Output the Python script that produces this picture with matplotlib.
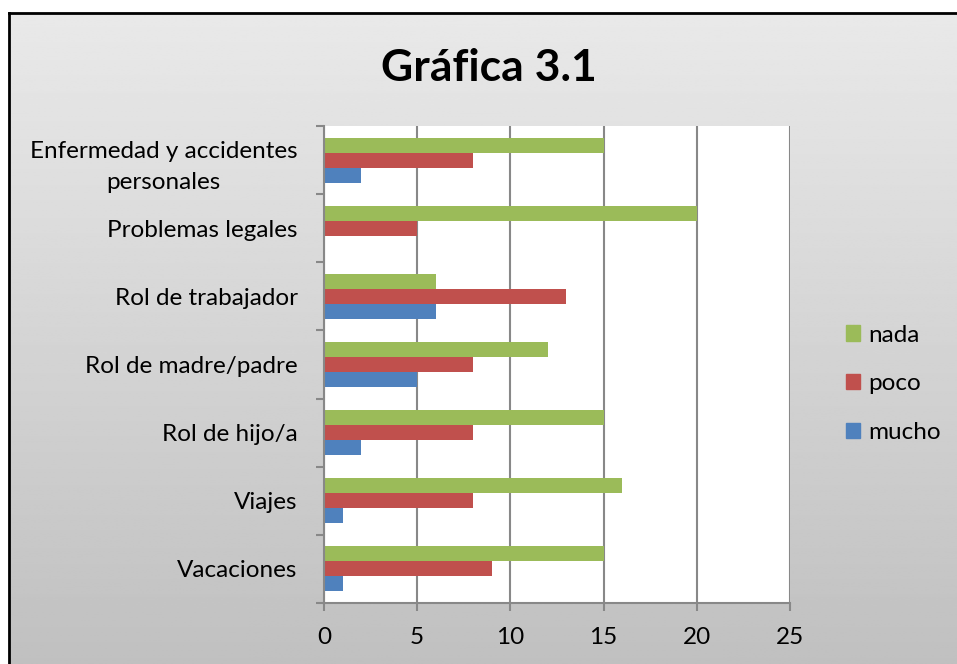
import numpy as np
import matplotlib
matplotlib.use("Agg")
import matplotlib.pyplot as plt
from matplotlib.lines import Line2D
from matplotlib.patches import Patch

categories = ["Vacaciones", "Viajes", "Rol de hijo/a", "Rol de madre/padre",
              "Rol de trabajador", "Problemas legales",
              "Enfermedad y accidentes\npersonales"]
mucho = [1, 1, 2, 5, 6, 0, 2]
poco = [9, 8, 8, 8, 13, 5, 8]
nada = [15, 16, 15, 12, 6, 20, 15]
xticks = [0, 5, 10, 15, 20, 25]

FONT = ["Lato", "DejaVu Sans"]
plt.rcParams['font.family'] = FONT
FS = 17.5

W, H = 957, 664
fig = plt.figure(figsize=(W / 100, H / 100), dpi=100, facecolor="white")

# background gradient panel with border
bx0, by1 = 9 / W, 1 - 13 / H
bg = fig.add_axes([bx0, 0, 1 - bx0, by1])
grad = np.linspace(233, 192, 256).reshape(-1, 1) / 255.0
bg.imshow(np.repeat(grad, 2, axis=1), cmap="gray", vmin=0, vmax=1,
          aspect="auto", extent=[0, 1, 0, 1], origin="upper")
bg.set_xlim(0, 1); bg.set_ylim(0, 1)
bg.axis("off")
fig.add_artist(Line2D([bx0, bx0], [0, by1], color="black", lw=2, transform=fig.transFigure))
fig.add_artist(Line2D([bx0, 1], [by1, by1], color="black", lw=2, transform=fig.transFigure))

ax = fig.add_axes([324 / W, (H - 603) / H, (790 - 324) / W, (603 - 126) / H])
ax.set_facecolor("white")
y = np.arange(len(categories))
h = 0.22
c_nada, c_poco, c_mucho = "#9BBB59", "#C0504D", "#4F81BD"
ax.barh(y + h, nada, height=h, color=c_nada, zorder=3)
ax.barh(y, poco, height=h, color=c_poco, zorder=3)
ax.barh(y - h, mucho, height=h, color=c_mucho, zorder=3)

ax.set_xlim(0, 25)
ax.set_ylim(-0.5, len(categories) - 0.5)
ax.set_xticks(xticks)
ax.set_xticklabels([str(t) for t in xticks], fontsize=FS)
ax.set_yticks(y)
ax.set_yticklabels(categories, fontsize=FS)
for lab in ax.get_yticklabels():
    lab.set_multialignment("center")
    lab.set_linespacing(1.6)
ax.set_yticks(np.arange(len(categories) + 1) - 0.5, minor=True)
ax.tick_params(axis="y", which="major", length=0, pad=19)
ax.tick_params(axis="y", which="minor", length=6, width=1.5, color="#888888")
ax.tick_params(axis="x", which="major", length=6, width=1.5, color="#888888", pad=11)
ax.grid(axis="x", color="#888888", lw=1.5, zorder=1)
for s in ["top", "right"]:
    ax.spines[s].set_visible(False)
for s in ["left", "bottom"]:
    ax.spines[s].set_color("#888888")
    ax.spines[s].set_linewidth(1.5)
    ax.spines[s].set_zorder(4)

fig.text(489 / W, 1 - 68 / H, "Gráfica 3.1", ha="center", va="center",
         fontsize=32, fontweight="bold")

handles = [Patch(color=c_nada), Patch(color=c_poco), Patch(color=c_mucho)]
fig.legend(handles, ["nada", "poco", "mucho"], loc="center left",
           bbox_to_anchor=(846 / W, 1 - 384 / H), frameon=False, fontsize=FS,
           borderaxespad=0, borderpad=0,
           handlelength=0.58, handleheight=0.58, handletextpad=0.35, labelspacing=1.15)

fig.savefig("out.png", dpi=100, facecolor="white")
